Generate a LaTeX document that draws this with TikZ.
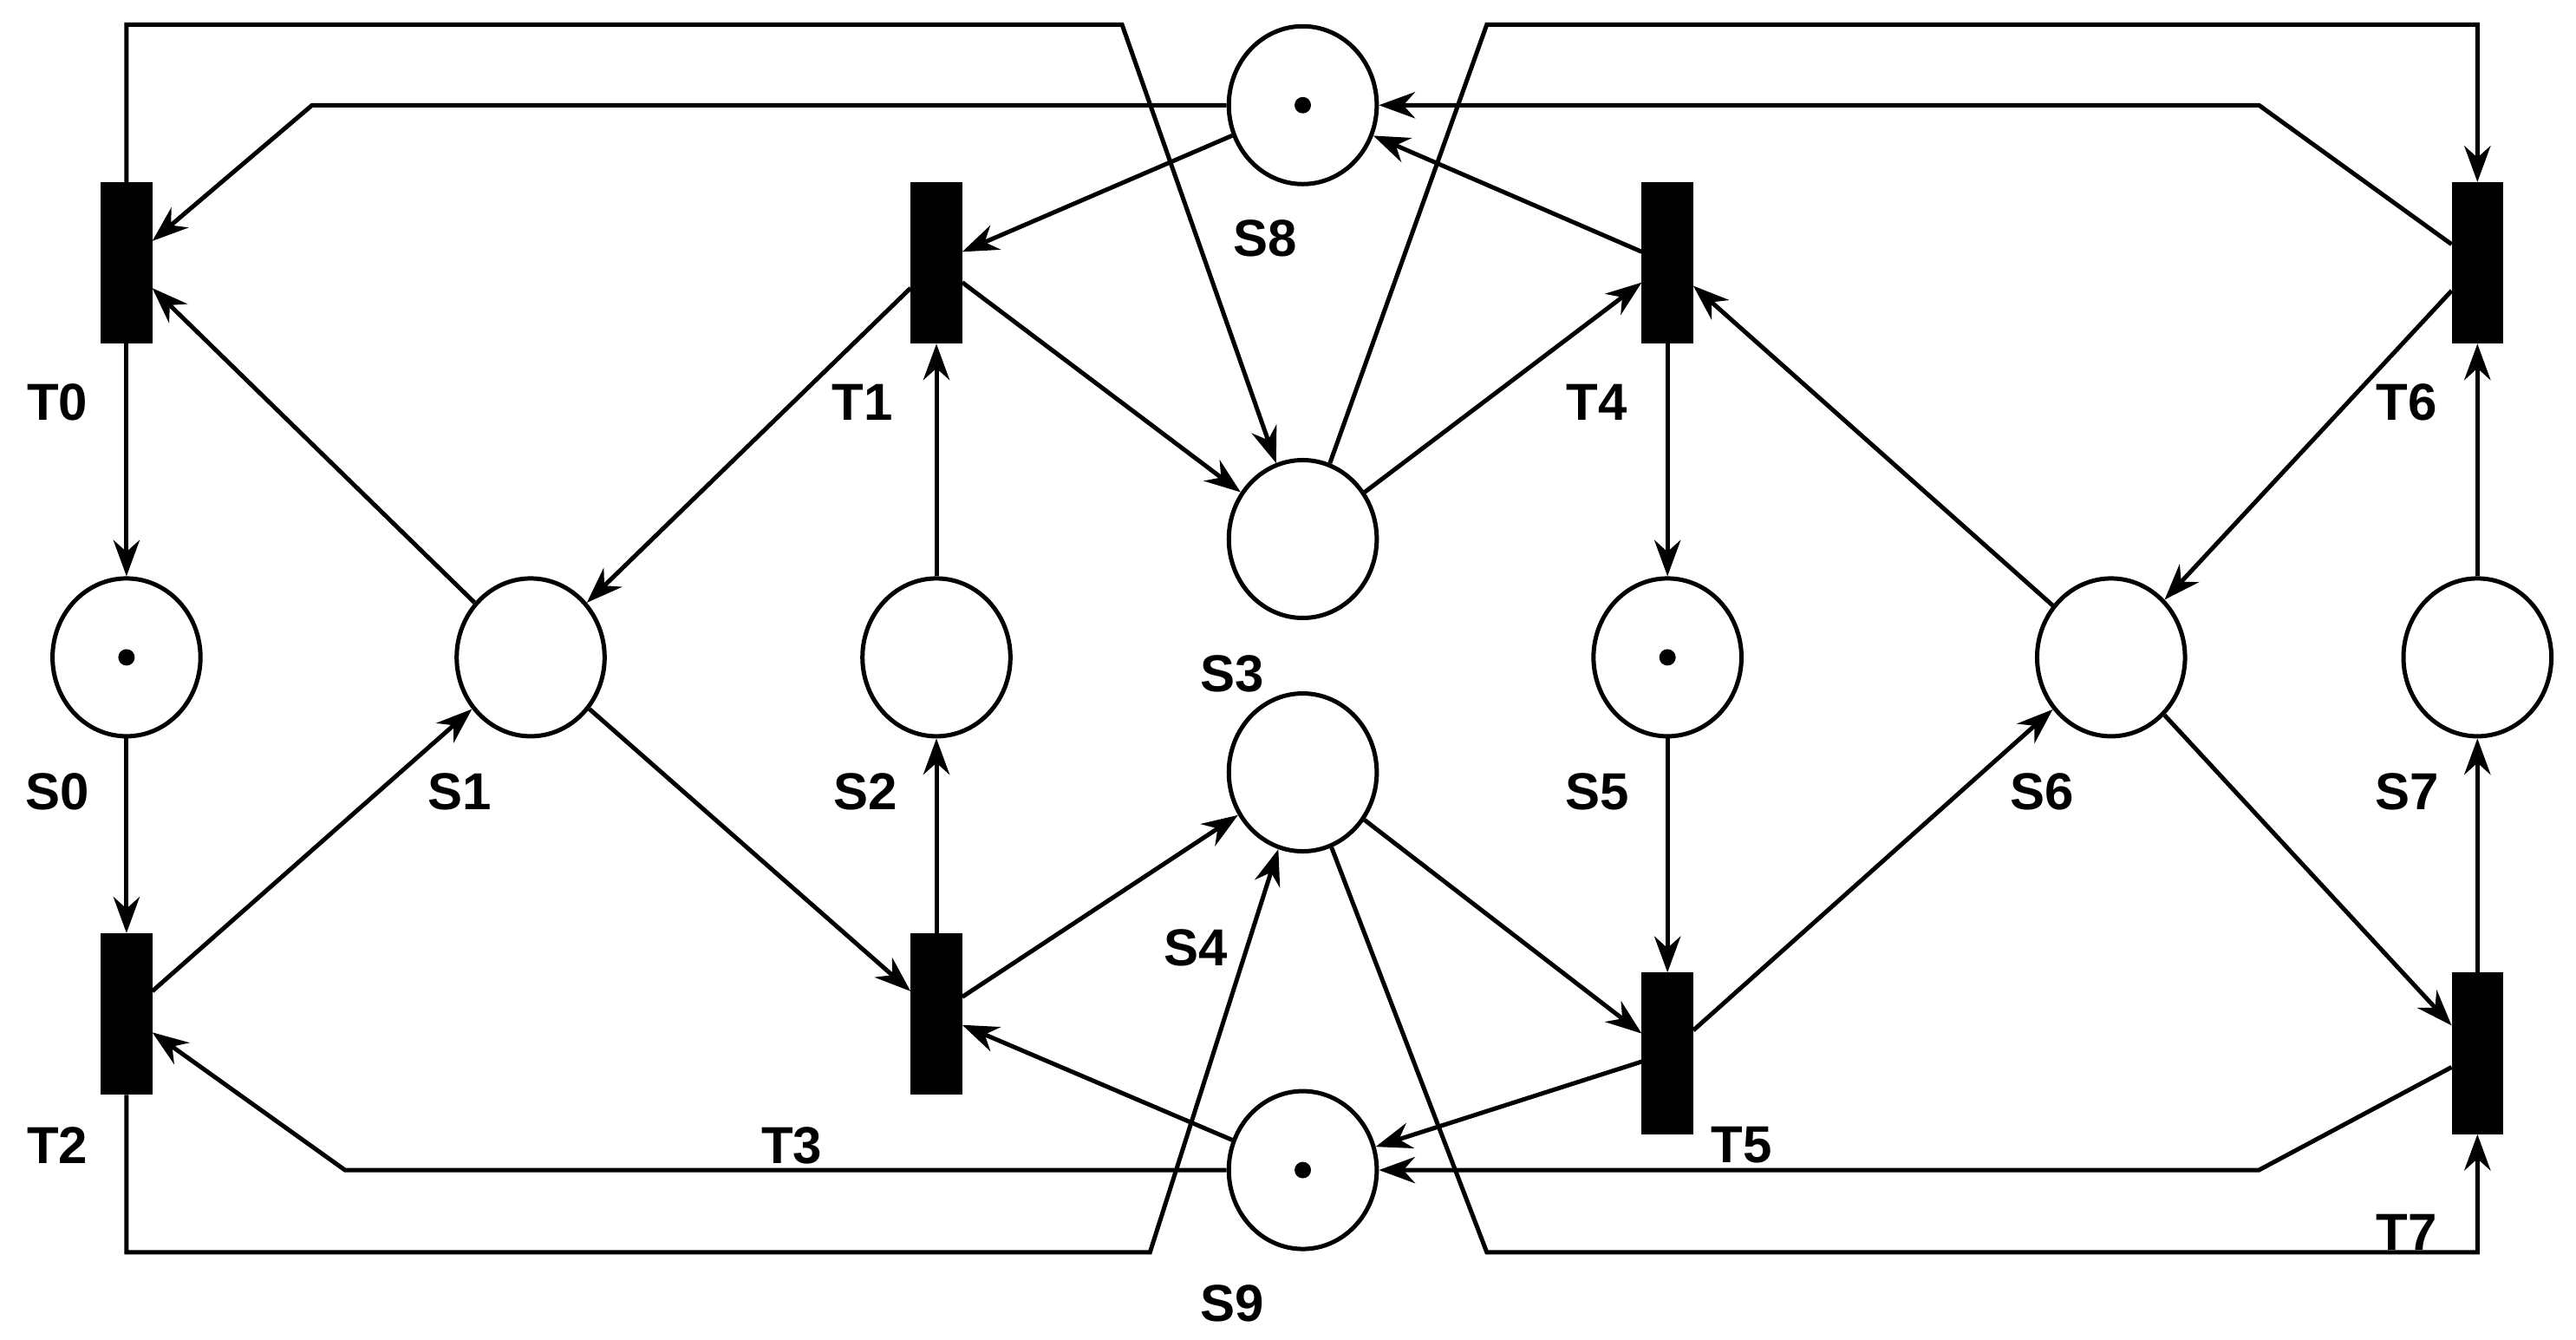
\documentclass[tikz,border=0pt]{standalone}
\usepackage{fontspec}
\setmainfont{Liberation Sans}
\usetikzlibrary{shapes.geometric,arrows.meta}
\begin{document}
\begin{tikzpicture}[x=0.01cm,y=-0.01cm,
  pl/.style={ellipse,draw,line width=0.75pt,minimum width=0.9cm,minimum height=0.96cm,inner sep=0pt},
  tr/.style={rectangle,fill=black,draw=black,minimum width=0.3cm,minimum height=0.97cm,inner sep=0pt},
  tok/.style={circle,fill=black,inner sep=0pt,minimum size=0.1cm},
  lb/.style={font=\bfseries\fontsize{9}{10}\selectfont},
  a/.style={line width=0.75pt,-{Stealth[length=0.22cm,width=0.16cm]}},
  ln/.style={line width=0.75pt}]
\useasboundingbox (0,0) rectangle (1568,815);
\node[pl] (S8) at (793,64) {}; \node[tok] at (793,64) {};
\node[pl] (S3) at (793,328) {};
\node[pl] (S4) at (793,470) {};
\node[pl] (S9) at (793,712) {}; \node[tok] at (793,712) {};
\node[pl] (S0) at (77,400) {}; \node[tok] at (77,400) {};
\node[pl] (S1) at (323,400) {};
\node[pl] (S2) at (570,400) {};
\node[pl] (S5) at (1015,400) {}; \node[tok] at (1015,400) {};
\node[pl] (S6) at (1285,400) {};
\node[pl] (S7) at (1508,400) {};
\node[tr] (T0) at (77,160) {};
\node[tr] (T1) at (570,160) {};
\node[tr] (T4) at (1015,160) {};
\node[tr] (T6) at (1508,160) {};
\node[tr] (T2) at (77,617) {};
\node[tr] (T3) at (570,617) {};
\node[tr] (T5) at (1015,641) {};
\node[tr] (T7) at (1508,641) {};
\node[lb] (lT0) at (35,245) {T0};
\node[lb] (lT1) at (525,245) {T1};
\node[lb] (lT4) at (972,245) {T4};
\node[lb] (lT6) at (1465,245) {T6};
\node[lb] (lS0) at (35,482) {S0};
\node[lb] (lS1) at (280,482) {S1};
\node[lb] (lS2) at (527,482) {S2};
\node[lb] (lS3) at (750,410) {S3};
\node[lb] (lS4) at (728,577) {S4};
\node[lb] (lS5) at (972,482) {S5};
\node[lb] (lS6) at (1243,482) {S6};
\node[lb] (lS7) at (1465,482) {S7};
\node[lb] (lS8) at (770,145) {S8};
\node[lb] (lT2) at (35,697) {T2};
\node[lb] (lT3) at (482,697) {T3};
\node[lb] (lT5) at (1060,697) {T5};
\node[lb] (lT7) at (1465,750) {T7};
\node[lb] (lS9) at (750,793) {S9};
% left block
\draw[a] (T0) -- (S0);
\draw[a] (S0) -- (T2);
\draw[a] (T2) -- (S1);
\draw[a] (S1) -- (T0);
\draw[a] (T1) -- (S1);
\draw[a] (S1) -- (T3);
\draw[a] (S2) -- (T1);
\draw[a] (T3) -- (S2);
\draw[a] (T1) -- (S3);
\draw[a] (S3) -- (T4);
\draw[a] (T3) -- (S4);
\draw[a] (S4) -- (T5);
% right block
\draw[a] (T4) -- (S5);
\draw[a] (S5) -- (T5);
\draw[a] (T5) -- (S6);
\draw[a] (S6) -- (T4);
\draw[a] (T6) -- (S6);
\draw[a] (S6) -- (T7);
\draw[a] (S7) -- (T6);
\draw[a] (T7) -- (S7);
% S8 / S9
\draw[a] (S8) -- (T1);
\draw[a] (T4) -- (S8);
\draw[a] (S8.west) -- (190,64) -- (T0);
\draw[a] (T6) -- (1375,64) -- (S8);
\draw[a] (S9) -- (T3);
\draw[a] (T5) -- (S9);
\draw[a] (S9.west) -- (210,712) -- (T2);
\draw[a] (T7) -- (1375,712) -- (S9);
% long loops
\draw[a] (T0.north) -- (77,15) -- (683,15) -- (S3);
\draw[a] (S3) -- (905,15) -- (1508,15) -- (T6.north);
\draw[a] (T2.south) -- (77,762) -- (700,762) -- (S4);
\draw[a] (S4) -- (905,762) -- (1508,762) -- (T7.south);
\end{tikzpicture}
\end{document}
